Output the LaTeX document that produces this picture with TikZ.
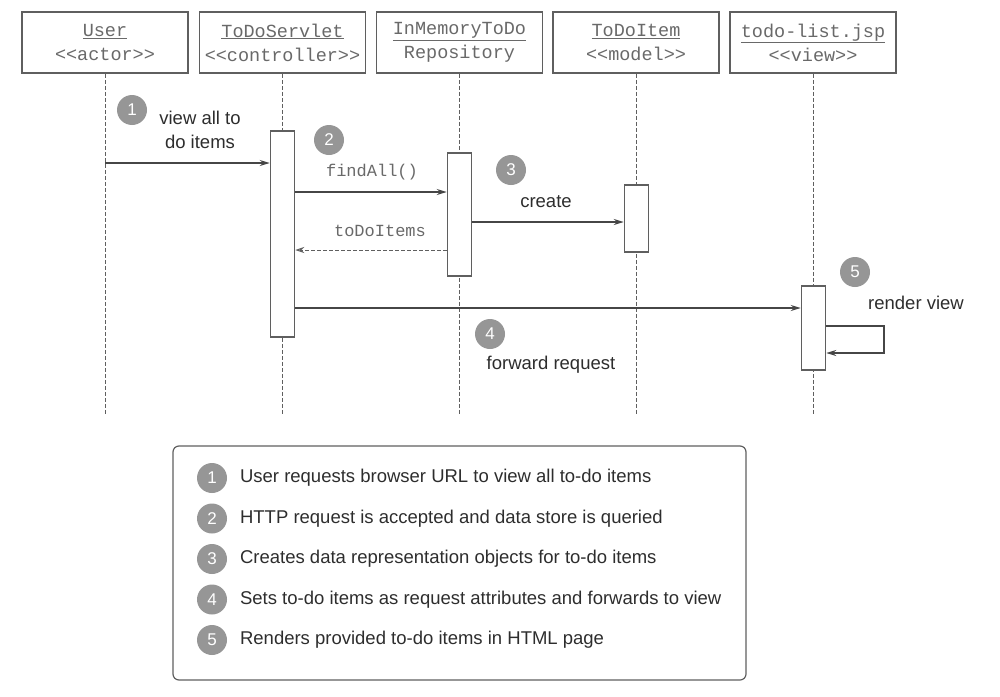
\documentclass[tikz,border=0pt]{standalone}
\usepackage{fontspec}
\setmainfont{Liberation Sans}
\setmonofont{Liberation Mono}
\usetikzlibrary{arrows.meta,positioning}
\tikzset{every picture/.style={line width=0.75pt}}
\definecolor{linegray}{RGB}{95,95,95}
\definecolor{arrowgray}{RGB}{70,70,70}
\definecolor{textgray}{RGB}{105,105,105}
\definecolor{textdark}{RGB}{45,45,45}
\definecolor{numgray}{RGB}{150,150,150}
\tikzset{
  head/.style={draw=linegray, line width=1.5pt, minimum width=166pt, minimum height=61pt,
    inner sep=0pt, align=center, text=textgray, font=\ttfamily\fontsize{18.5}{24}\selectfont},
  lifeline/.style={draw=linegray, line width=1pt, dash pattern=on 4pt off 2pt},
  act/.style={draw=linegray, fill=white, line width=1.5pt, minimum width=24pt, inner sep=0pt},
  msg/.style={draw=arrowgray, line width=1.5pt, -{Stealth[length=10pt,width=6pt]}},
  reply/.style={draw=linegray, line width=1pt, dash pattern=on 4pt off 2pt, -{Stealth[open,length=9pt,width=6pt]}},
  num/.style={circle, fill=numgray, text=white, minimum size=30pt, inner sep=0pt,
    font=\fontsize{17}{17}\selectfont},
  lbl/.style={text=textdark, align=center, font=\fontsize{18.5}{24}\selectfont},
  code/.style={text=textgray, font=\ttfamily\fontsize{17}{20}\selectfont},
  legtext/.style={text=textdark, anchor=west, font=\fontsize{18.5}{20}\selectfont}
}

\begin{document}
\begin{tikzpicture}[x=1pt,y=1pt,yscale=-1,xscale=1]
\useasboundingbox (0,0) rectangle (1000,696);

% header boxes
\node[head] (user) at (105,42.5) {\underline{User}\\{<}{<}actor{>}{>}};
\node[head] (servlet) at (282.5,42.5) {\underline{ToDoServlet}\\{<}{<}controller{>}{>}};
\node[head] (repo) at (459.5,42.5) {\underline{InMemoryToDo}\\Repository};
\node[head] (item) at (636,42.5) {\underline{ToDoItem}\\{<}{<}model{>}{>}};
\node[head] (view) at (813,42.5) {\underline{todo-list.jsp}\\{<}{<}view{>}{>}};

% lifelines
\coordinate (userend) at (105,415);
\coordinate (servletend) at (282.5,415);
\coordinate (repoend) at (459.5,415);
\coordinate (itemend) at (636,415);
\coordinate (viewend) at (813,415);
\draw[lifeline] (user.south) -- (userend);
\draw[lifeline] (servlet.south) -- (servletend);
\draw[lifeline] (repo.south) -- (repoend);
\draw[lifeline] (item.south) -- (itemend);
\draw[lifeline] (view.south) -- (viewend);

% activation bars
\node[act, minimum height=206pt] (servletact) at (282.5,234) {};
\node[act, minimum height=123pt] (repoact) at (459.5,214.5) {};
\node[act, minimum height=67pt] (itemact) at (636.5,218.5) {};
\node[act, minimum height=84pt] (viewact) at (813.5,328) {};

% messages
\coordinate (m1) at (105,163);
\draw[msg] (m1) -- (m1 -| servletact.west);
\draw[msg] (servletact.east |- 0,192) -- (repoact.west |- 0,192);
\draw[msg] (repoact.east |- 0,222) -- (itemact.west |- 0,222);
\draw[reply] (repoact.west |- 0,250) -- (servletact.east |- 0,250);
\draw[msg] (servletact.east |- 0,308) -- (viewact.west |- 0,308);
\coordinate (loopcorner) at (884,326);
\draw[msg] (viewact.east |- loopcorner) -- (loopcorner) |- (viewact.east |- 0,353);

% step numbers
\node[num] (n1) at (132,110) {1};
\node[num] (n2) at (329,140) {2};
\node[num] (n3) at (511,170) {3};
\node[num] (n4) at (490,334) {4};
\node[num] (n5) at (855,272) {5};

% message labels
\node[lbl] at (200,130) {view all to\\do items};
\node[code] at (372,172) {findAll()};
\node[lbl] at (546,202) {create};
\node[code] at (380,231) {toDoItems};
\node[lbl] at (551,365) {forward request};
\node[lbl] at (916,303) {render view};

% legend
\node[draw=linegray, line width=1.2pt, rounded corners=6pt, minimum width=573pt,
  minimum height=234pt, inner sep=0pt] (legend) at (459.5,563) {};
\foreach \i/\t in {1/User requests browser URL to view all to-do items,
  2/HTTP request is accepted and data store is queried,
  3/Creates data representation objects for to-do items,
  4/Sets to-do items as request attributes and forwards to view,
  5/Renders provided to-do items in HTML page}{
  \node[num] (k\i) at (212,{478+40.5*(\i-1)}) {\i};
  \node[legtext] at ([xshift=9pt]k\i.east) {\t};
}
\end{tikzpicture}
\end{document}
